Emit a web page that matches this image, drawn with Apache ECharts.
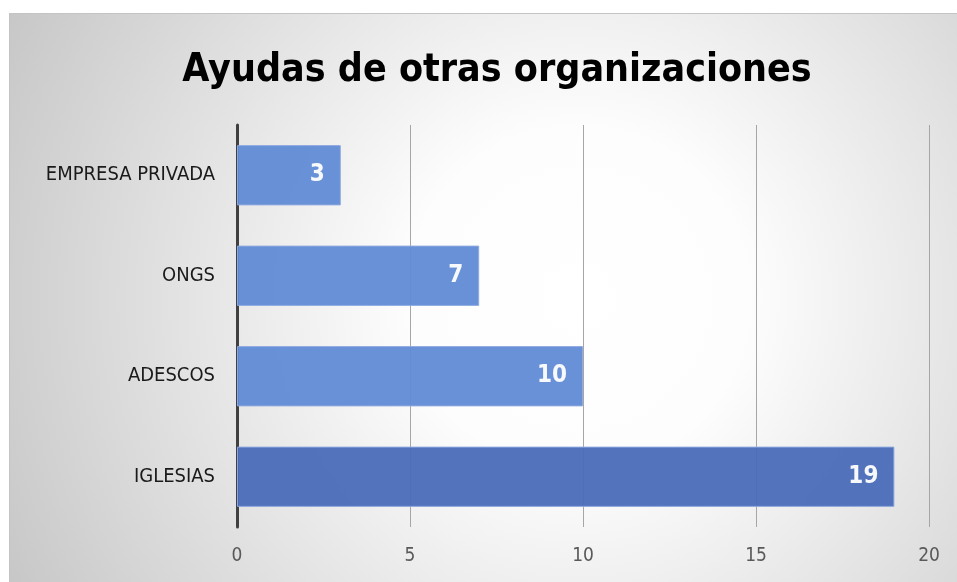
<!DOCTYPE html>
<html>
<head>
<meta charset="utf-8">
<script src="https://cdn.jsdelivr.net/npm/echarts@6/dist/echarts.min.js"></script>
<style>
  html, body { margin: 0; padding: 0; background: #fff; }
  #chart { position: absolute; left: 9px; top: 13px; width: 948px; height: 569px;
           border-top: 1px solid #c4c4c4; border-left: 1px solid #c4c4c4; box-sizing: border-box; }
</style>
</head>
<body>
<div id="chart"></div>
<script>
let categorias = ['EMPRESA PRIVADA', 'ONGS', 'ADESCOS', 'IGLESIAS']
let valores = [3, 7, 10, 19]
let colores = ['#608bd6', '#608bd6', '#608bd6', '#4a6bb8']
let fuente = '"DejaVu Sans Condensed", "DejaVu Sans", sans-serif'

let myChart = echarts.init(document.getElementById('chart'))

let option = {
  backgroundColor: {
    type: 'radial', x: 0.6, y: 0.5, r: 1.2,
    colorStops: [
      { offset: 0, color: '#ffffff' },
      { offset: 0.25, color: '#fdfdfd' },
      { offset: 1, color: '#c2c2c2' }
    ]
  },
  title: {
    text: 'Ayudas de otras organizaciones',
    left: 482,
    textAlign: 'center',
    top: 32,
    textStyle: { fontFamily: fuente, fontSize: 39, fontWeight: 'bold', color: '#000' }
  },
  grid: { left: 227, right: 28, top: 111, bottom: 55, containLabel: false },
  xAxis: {
    type: 'value',
    min: 0, max: 20, interval: 5,
    axisLine: { show: false },
    axisTick: { show: false },
    axisLabel: { fontFamily: fuente, fontSize: 19, color: '#595959', margin: 20 },
    splitLine: { lineStyle: { color: '#a6a6a6', width: 1 } }
  },
  yAxis: {
    type: 'category',
    inverse: true,
    data: categorias,
    axisLine: { lineStyle: { color: '#404040', width: 3 } },
    axisTick: { show: false },
    axisLabel: { fontFamily: fuente, fontSize: 20, color: '#1a1a1a', margin: 22 }
  },
  series: [{
    type: 'bar',
    barWidth: '60%',
    data: valores.map((v, i) => ({
      value: v,
      itemStyle: { color: colores[i], opacity: 0.95, borderColor: '#8eaae0', borderWidth: 1 }
    })),
    label: {
      show: true,
      position: 'insideRight',
      distance: 16,
      fontFamily: fuente,
      fontSize: 24,
      fontWeight: 'bold',
      color: '#fff'
    }
  }]
}

myChart.setOption(option)
</script>
</body>
</html>
